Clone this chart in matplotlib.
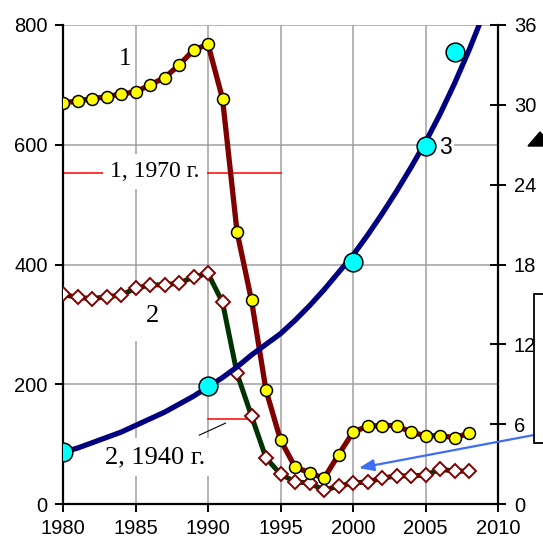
import matplotlib
matplotlib.use("Agg")
import matplotlib.pyplot as plt
from matplotlib.patches import Rectangle, Polygon

# data
years = list(range(1980, 2009))
vals1 = [670, 673, 677, 680, 685, 688, 700, 712, 733, 758, 768, 677, 455, 340, 190,
         107, 62, 52, 43, 82, 120, 130, 131, 131, 120, 114, 114, 111, 118]
vals2 = [350, 345, 343, 346, 349, 360, 366, 366, 369, 379, 385, 337, 218, 147, 77,
         50, 37, 35, 23, 30, 35, 37, 43, 47, 47, 48, 58, 55, 55]
years3 = [1980, 1990, 2000, 2005, 2007]
vals3 = [3.9, 8.9, 18.2, 26.9, 34.0]
trend_years = list(range(1980, 2009)) + [2008.7]
trend_vals = [3.9, 4.2, 4.6, 5.0, 5.4, 5.9, 6.4, 6.9, 7.5, 8.1, 8.8, 9.5, 10.3, 11.2,
              12.0, 12.8, 13.8, 14.9, 16.1, 17.4, 18.7, 20.2, 21.8, 23.5, 25.3,
              27.2, 29.3, 31.6, 34.1, 36.0]
xticks = [1980, 1985, 1990, 1995, 2000, 2005, 2010]
yticks_left = [0, 200, 400, 600, 800]
yticks_right = [0, 6, 12, 18, 24, 30, 36]

sans = "Liberation Sans"
serif = "Liberation Serif"
plt.rcParams["font.family"] = sans

fig = plt.figure(figsize=(5.43, 5.40), dpi=100)
ax = fig.add_axes([63 / 543, 36 / 540, 435 / 543, 479 / 540])
ax.set_xlim(1980, 2010)
ax.set_ylim(0, 800)
ax.set_xticks(xticks)
ax.set_yticks(yticks_left)
ax.grid(True, color="#a0a0a0", lw=1.1, zorder=0)
ax.set_axisbelow(True)
for s in ["top", "right"]:
    ax.spines[s].set_visible(False)
for s in ["left", "bottom"]:
    ax.spines[s].set_linewidth(1.6)
ax.tick_params(labelsize=14.5, length=6, width=1.4, direction="out", pad=5)

# reference lines and labels
ax.plot([1980, 1995], [553, 553], color="red", lw=1.1, zorder=2)
ax.plot([1990, 1993], [142, 142], color="red", lw=1.1, zorder=2)
ax.plot([1989.4, 1991.2], [115, 135], color="black", lw=0.8, zorder=2)

ax.text(1986.34, 546, "1, 1970 г.", family=serif, fontsize=17, ha="center",
        va="baseline", zorder=3,
        bbox=dict(boxstyle="square,pad=0.3", fc="white", ec="none"))
ax.text(1986.34, 68, "2, 1940 г.", family=serif, fontsize=19, ha="center",
        va="baseline", zorder=3,
        bbox=dict(boxstyle="square,pad=0.3", fc="white", ec="none"))
ax.text(1986.2, 304, "2", family=serif, fontsize=19, ha="center", va="baseline",
        zorder=3, bbox=dict(boxstyle="square,pad=0.55", fc="white", ec="none"))
ax.text(1984.3, 733, "1", family=serif, fontsize=18, ha="center", va="baseline",
        zorder=3)
ax.text(2006.35, 584, "3", fontsize=16.5, ha="center", va="baseline", zorder=3,
        bbox=dict(boxstyle="square,pad=0.1", fc="white", ec="none"))

# series 2 and 1
ax.plot(years, vals2, color="#003300", lw=3.6, zorder=4)
ax.plot(years, vals1, color="#800000", lw=3.8, zorder=4)
ax.plot(years, vals2, ls="none", marker="D", ms=7, mfc="white", mec="#800000",
        mew=1.4, zorder=5)
ax.plot(years, vals1, ls="none", marker="o", ms=8.6, mfc="#ffff00", mec="black",
        mew=1.1, zorder=6)

# series 3 on right axis
ax2 = ax.twinx()
ax2.set_ylim(0, 36)
ax2.set_yticks(yticks_right)
for s in ["top", "left", "bottom"]:
    ax2.spines[s].set_visible(False)
ax2.spines["right"].set_linewidth(1.6)
ax2.tick_params(labelsize=14.5, length=11, width=1.4, direction="inout", pad=6)
ax2.plot(trend_years, trend_vals, color="#000080", lw=3.8, zorder=4, clip_on=True)
ax2.plot(years3, vals3, ls="none", marker="o", ms=13.5, mfc="#00ffff", mec="black",
         mew=1.1, zorder=5)

# arrow from the cut-off box on the right
ax2.annotate("", xy=(2000.4, 2.7), xycoords="data",
             xytext=(534 / 543, 105 / 540), textcoords="figure fraction",
             arrowprops=dict(arrowstyle="-|>,head_length=0.9,head_width=0.35",
                             color="#3d6ef5", lw=1.6, shrinkA=0, shrinkB=0),
             annotation_clip=False)

fig.add_artist(Rectangle((534 / 543, 97 / 540), 40 / 543, 149 / 540,
                         transform=fig.transFigure, fc="white", ec="black",
                         lw=1.3, zorder=10))
fig.add_artist(Polygon([(528 / 543, 394 / 540), (552 / 543, 394 / 540),
                        (540 / 543, 408 / 540)], closed=True,
                       transform=fig.transFigure, fc="black", ec="black",
                       zorder=10))

fig.savefig("out.png", dpi=100)
